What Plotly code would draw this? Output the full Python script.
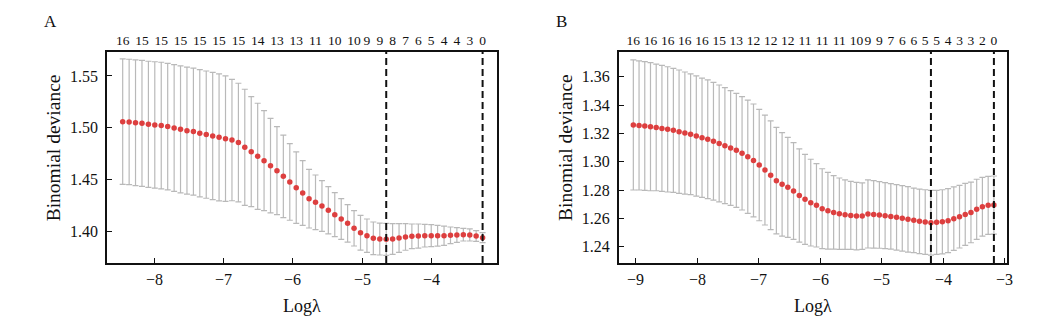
import plotly.graph_objects as go
import numpy as np

# ---------------- Panel A data ----------------
logl_a = [-8.456, -8.363, -8.271, -8.178, -8.085, -7.993, -7.900, -7.807, -7.714, -7.622,
          -7.529, -7.436, -7.344, -7.251, -7.158, -7.066, -6.973, -6.880, -6.787, -6.695,
          -6.602, -6.509, -6.417, -6.324, -6.231, -6.139, -6.046, -5.953, -5.860, -5.768,
          -5.675, -5.582, -5.490, -5.397, -5.304, -5.212, -5.119, -5.026, -4.933, -4.841,
          -4.748, -4.655, -4.563, -4.470, -4.377, -4.285, -4.192, -4.099, -4.006, -3.914,
          -3.821, -3.728, -3.636, -3.543, -3.450, -3.358, -3.265]
cvm_a = [1.5060, 1.5057, 1.5050, 1.5044, 1.5034, 1.5028, 1.5022, 1.5012, 1.4999, 1.4986,
         1.4973, 1.4964, 1.4948, 1.4935, 1.4922, 1.4909, 1.4896, 1.4883, 1.4858, 1.4813,
         1.4771, 1.4726, 1.4684, 1.4636, 1.4588, 1.4533, 1.4479, 1.4424, 1.4373, 1.4318,
         1.4283, 1.4247, 1.4206, 1.4164, 1.4122, 1.4080, 1.4032, 1.3990, 1.3961, 1.3936,
         1.3929, 1.3926, 1.3929, 1.3939, 1.3949, 1.3955, 1.3958, 1.3961, 1.3961, 1.3961,
         1.3961, 1.3965, 1.3968, 1.3971, 1.3968, 1.3958, 1.3942]
cvsd_a = [0.0604, 0.0604, 0.0606, 0.0607, 0.0608, 0.0609, 0.0610, 0.0610, 0.0611, 0.0612,
          0.0612, 0.0612, 0.0613, 0.0613, 0.0613, 0.0612, 0.0604, 0.0585, 0.0572, 0.0559,
          0.0530, 0.0511, 0.0482, 0.0456, 0.0424, 0.0398, 0.0369, 0.0344, 0.0312, 0.0283,
          0.0263, 0.0244, 0.0228, 0.0212, 0.0196, 0.0180, 0.0170, 0.0167, 0.0161, 0.0157,
          0.0154, 0.0154, 0.0148, 0.0138, 0.0128, 0.0119, 0.0116, 0.0109, 0.0106, 0.0100,
          0.0093, 0.0080, 0.0071, 0.0061, 0.0058, 0.0051, 0.0048]
# number of non-zero coefficients shown along the top, and the lambda index they sit on
top_labels_a = ["16", "15", "15", "15", "15", "15", "15", "14", "13", "13", "11", "10",
                "10", "9", "9", "8", "7", "6", "5", "4", "4", "3", "0"]
top_idx_a = [0, 3, 6, 9, 12, 15, 18, 21, 24, 27, 30, 33, 36, 38, 40, 42, 44, 46, 48, 50, 52,
             54, 56]
yticks_a = [1.40, 1.45, 1.50, 1.55]
xticks_a = [-8, -7, -6, -5, -4]

# ---------------- Panel B data ----------------
logl_b = [-9.043, -8.950, -8.857, -8.764, -8.671, -8.578, -8.485, -8.392, -8.299, -8.205,
          -8.112, -8.019, -7.926, -7.833, -7.740, -7.647, -7.554, -7.461, -7.368, -7.275,
          -7.182, -7.089, -6.996, -6.903, -6.810, -6.717, -6.624, -6.531, -6.438, -6.344,
          -6.251, -6.158, -6.065, -5.972, -5.879, -5.786, -5.693, -5.600, -5.507, -5.414,
          -5.321, -5.228, -5.135, -5.042, -4.949, -4.856, -4.763, -4.670, -4.577, -4.483,
          -4.390, -4.297, -4.204, -4.111, -4.018, -3.925, -3.832, -3.739, -3.646, -3.553,
          -3.460, -3.367, -3.273, -3.180]
cvm_b = [1.3259, 1.3256, 1.3252, 1.3247, 1.3242, 1.3235, 1.3228, 1.3221, 1.3212, 1.3202,
         1.3193, 1.3181, 1.3169, 1.3158, 1.3144, 1.3129, 1.3113, 1.3096, 1.3080, 1.3059,
         1.3035, 1.3009, 1.2976, 1.2941, 1.2904, 1.2866, 1.2840, 1.2819, 1.2793, 1.2762,
         1.2734, 1.2711, 1.2692, 1.2668, 1.2654, 1.2642, 1.2633, 1.2626, 1.2621, 1.2616,
         1.2616, 1.2631, 1.2628, 1.2624, 1.2619, 1.2614, 1.2607, 1.2600, 1.2593, 1.2586,
         1.2579, 1.2574, 1.2569, 1.2572, 1.2576, 1.2584, 1.2598, 1.2612, 1.2628, 1.2642,
         1.2664, 1.2682, 1.2692, 1.2694]
cvsd_b = [0.0459, 0.0456, 0.0454, 0.0452, 0.0447, 0.0445, 0.0442, 0.0438, 0.0435, 0.0431,
          0.0426, 0.0424, 0.0421, 0.0419, 0.0416, 0.0412, 0.0409, 0.0405, 0.0402, 0.0400,
          0.0400, 0.0398, 0.0393, 0.0388, 0.0384, 0.0376, 0.0365, 0.0353, 0.0341, 0.0329,
          0.0318, 0.0306, 0.0294, 0.0282, 0.0271, 0.0259, 0.0252, 0.0245, 0.0240, 0.0238,
          0.0235, 0.0240, 0.0238, 0.0235, 0.0233, 0.0231, 0.0231, 0.0231, 0.0231, 0.0228,
          0.0228, 0.0228, 0.0228, 0.0226, 0.0226, 0.0226, 0.0224, 0.0221, 0.0219, 0.0214,
          0.0212, 0.0207, 0.0205, 0.0205]
top_labels_b = ["16", "16", "16", "16", "16", "15", "13", "12", "12", "12", "11", "11", "11",
                "10", "9", "9", "7", "6", "6", "5", "5", "4", "3", "3", "2", "0"]
top_idx_b = [0, 3, 6, 9, 12, 15, 18, 21, 24, 27, 30, 33, 36, 39, 41, 43, 45, 47, 49, 51, 53,
             55, 57, 59, 61, 63]
yticks_b = [1.24, 1.26, 1.28, 1.30, 1.32, 1.34, 1.36]
xticks_b = [-9, -8, -7, -6, -5, -4, -3]

# ---------------- styling ----------------
FONT = "Liberation Serif"
RED = "#DD3F3F"
GREY = "#B9B9B9"
W, H = 1048, 325

panels = [
    dict(x=logl_a, m=cvm_a, s=cvsd_a, tl=top_labels_a, ti=top_idx_a, yt=yticks_a, xt=xticks_a,
         xr=[-8.678, -3.053], yr=[1.3698, 1.5731], px=(107.3, 497.3), letter="A", lx=50),
    dict(x=logl_b, m=cvm_b, s=cvsd_b, tl=top_labels_b, ti=top_idx_b, yt=yticks_b, xt=xticks_b,
         xr=[-9.276, -2.967], yr=[1.2285, 1.3774], px=(619.0, 1007.0), letter="B", lx=561),
]

top_px, bot_px = 52.0, 263.0
ydom = [1 - bot_px / H, 1 - top_px / H]

fig = go.Figure()
layout = dict(
    width=W, height=H, margin=dict(l=0, r=0, t=0, b=0),
    paper_bgcolor="white", plot_bgcolor="white", showlegend=False,
    font=dict(family=FONT, size=16, color="#111"),
)
annotations = []
shapes = []

for k, p in enumerate(panels):
    n = k + 1
    xa = "x" if n == 1 else f"x{2*n-1}"
    ya = "y" if n == 1 else f"y{n}"
    xtop = f"x{2*n}"
    xkey = "xaxis" if n == 1 else f"xaxis{2*n-1}"
    ykey = "yaxis" if n == 1 else f"yaxis{n}"
    xtopkey = f"xaxis{2*n}"
    dom = [p["px"][0] / W, p["px"][1] / W]

    fig.add_trace(go.Scatter(
        x=p["x"], y=p["m"], mode="markers", xaxis=xa, yaxis=ya,
        marker=dict(color=RED, size=5.5, line=dict(width=0)),
        error_y=dict(type="data", array=p["s"], symmetric=True, color=GREY,
                     thickness=1.2, width=3),
        hoverinfo="skip",
    ))

    layout[xkey] = dict(domain=dom, anchor=ya, range=p["xr"], tickvals=p["xt"],
                        ticks="inside", ticklen=5, tickwidth=1, tickcolor="#111",
                        showline=True, linecolor="#111", linewidth=2, mirror=True,
                        showgrid=False, zeroline=False, showticklabels=False)
    layout[ykey] = dict(domain=ydom, anchor=xa, range=p["yr"], tickvals=p["yt"],
                        tickformat=".2f", ticks="inside", ticklen=5, tickwidth=1,
                        tickcolor="#111", showline=True, linecolor="#111", linewidth=2,
                        mirror=True, showgrid=False, zeroline=False, tickfont=dict(size=16),
                        ticklabelstandoff=4)
    layout[xtopkey] = dict(overlaying=xa, anchor=ya, side="top", range=p["xr"],
                           tickvals=[p["x"][i] for i in p["ti"]], ticktext=p["tl"],
                           tickangle=0, ticks="", showline=False, showgrid=False,
                           zeroline=False, tickfont=dict(size=13.5), ticklabelstandoff=3)
    fig.add_trace(go.Scatter(x=[p["x"][0]], y=[p["m"][0]], xaxis=xtop, yaxis=ya,
                             mode="markers", marker=dict(opacity=0), hoverinfo="skip"))

    # bottom tick labels
    for xv in p["xt"]:
        annotations.append(dict(text=f"{xv}".replace("-", "\u2212"), xref=xa, yref="paper",
                                x=xv, y=1 - 279 / H, showarrow=False,
                                font=dict(size=16), xanchor="center", yanchor="middle"))

    # lambda.min and lambda.1se lines
    m = np.array(p["m"]); s = np.array(p["s"]); xs = np.array(p["x"])
    imin = int(np.argmin(m))
    thr = m[imin] + s[imin]
    i1se = int(np.max(np.where(m <= thr)[0]))
    for xv in (xs[imin], xs[i1se]):
        shapes.append(dict(type="line", xref=xa, yref=f"{ya} domain", x0=xv, x1=xv,
                           y0=0, y1=1, line=dict(color="#111", width=2, dash="7px,4px")))

    cx = (p["px"][0] + p["px"][1]) / 2 / W
    annotations.append(dict(text="Logλ", xref="paper", yref="paper", x=cx, y=1 - 306 / H,
                            showarrow=False, font=dict(size=18), xanchor="center",
                            yanchor="middle"))
    annotations.append(dict(text="Binomial deviance", xref="paper", yref="paper",
                            x=(p["px"][0] - 54) / W, y=1 - 148 / H, textangle=-90,
                            showarrow=False, font=dict(size=19.5), xanchor="center",
                            yanchor="middle"))
    annotations.append(dict(text=p["letter"], xref="paper", yref="paper", x=p["lx"] / W,
                            y=1 - 21 / H, showarrow=False, font=dict(size=17),
                            xanchor="center", yanchor="middle"))

layout["annotations"] = annotations
layout["shapes"] = shapes
fig.update_layout(**layout)
fig.write_html("out.html")
